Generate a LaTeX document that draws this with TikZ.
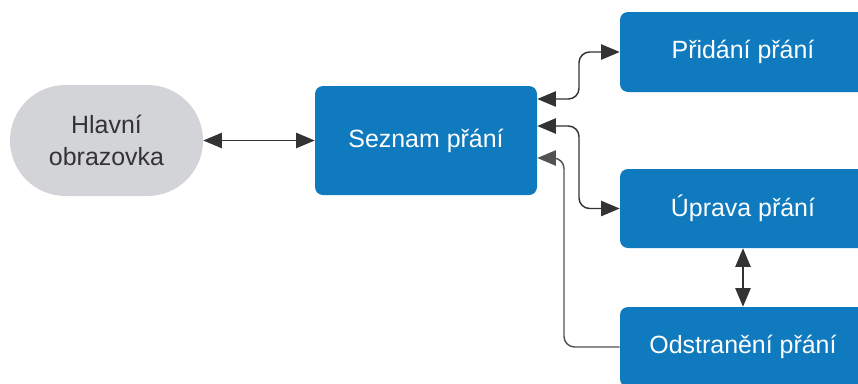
\documentclass[tikz,border=0pt]{standalone}
\usepackage{fontspec}
\setmainfont{Liberation Sans}
\usetikzlibrary{arrows.meta,calc}
\definecolor{boxblue}{RGB}{16,122,190}
\definecolor{boxgray}{RGB}{211,212,216}
\definecolor{ink}{RGB}{51,51,51}
\begin{document}
\begin{tikzpicture}[x=0.75pt,y=-0.75pt,
  every node/.style={font=\fontsize{18.7}{24}\selectfont, align=center, inner sep=0pt},
  bluebox/.style={fill=boxblue, text=white, rounded corners=6pt,
    minimum width=184.5pt, minimum height=60pt},
  tip/.style={Triangle[length=14pt,width=11.5pt]},
  link/.style={draw=ink, line width=1.1pt, rounded corners=8pt,
    arrows={Triangle[length=14pt,width=11.5pt]-Triangle[length=14pt,width=11.5pt]}},
  onelink/.style={draw=ink!85, line width=1.1pt, rounded corners=8pt,
    -{Triangle[length=14pt,width=11.5pt]}}]
\useasboundingbox (0,0) rectangle (858,383);
\clip (0,0) rectangle (858,383);

% screens
\node[fill=boxgray, text=ink, rounded corners=41.6pt,
  minimum width=144.75pt, minimum height=83.25pt] (hlavni) at (106.5,140.5) {Hlavní\\obrazovka};
\node[bluebox, minimum width=166.5pt, minimum height=81.75pt] (seznam) at (426,140.5) {Seznam přání};
\node[bluebox] (pridani) at (743,52) {Přidání přání};
\node[bluebox, minimum height=59.25pt] (uprava) at (743,208.5) {Úprava přání};
\node[bluebox] (odstraneni) at (743,347) {Odstranění přání};

% attachment points on the right side of the list screen
\coordinate (sA) at ($(seznam.east)+(0,-41.5)$);
\coordinate (sB) at ($(seznam.east)+(0,-14.5)$);
\coordinate (sC) at ($(seznam.east)+(0,17.5)$);

% connectors
\draw[link] (hlavni.east) -- (seznam.west);
\draw[link] (sA) -| (579,75) |- (pridani.west);
\draw[link] (sB) -| (579,170) |- (uprava.west);
\draw[onelink] (odstraneni.west) -| (564,250) |- (sC);
\draw[link] (uprava.south) -- (odstraneni.north);
\end{tikzpicture}
\end{document}
